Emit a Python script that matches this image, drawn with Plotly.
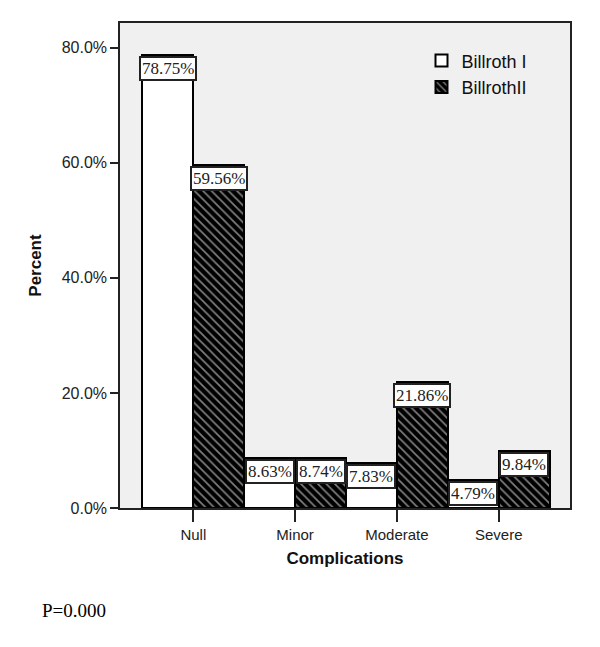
import plotly.graph_objects as go

categories = ["Null", "Minor", "Moderate", "Severe"]
billroth1 = [78.75, 8.63, 7.83, 4.79]
billroth2 = [59.56, 8.74, 21.86, 9.84]
yticks = [0, 20, 40, 60, 80]
yticklabels = ["0.0%", "20.0%", "40.0%", "60.0%", "80.0%"]

xpos = list(range(len(categories)))

fig = go.Figure()
fig.add_trace(go.Bar(
    x=xpos, y=billroth1, name="Billroth I",
    marker=dict(color="white", line=dict(color="black", width=2)),
))
fig.add_trace(go.Bar(
    x=xpos, y=billroth2, name="BillrothII",
    marker=dict(color="black", line=dict(color="black", width=2),
                pattern=dict(shape="\\", fgcolor="white", bgcolor="black",
                             size=6, solidity=0.28)),
))

for series, off in ((billroth1, -0.25), (billroth2, 0.25)):
    for i, v in enumerate(series):
        fig.add_annotation(
            x=i + off, y=v, xref="x", yref="y", text=f"{v:.2f}%",
            showarrow=False, yanchor="top", yshift=-1,
            font=dict(family="Liberation Serif", size=17, color="#222"),
            bgcolor="white", bordercolor="#222", borderwidth=2, borderpad=1,
        )

PLOT_L, PLOT_B, PLOT_W, PLOT_H = 120, 508, 450, 485
fig.add_annotation(
    x=(40 - PLOT_L) / PLOT_W, y=(PLOT_B - 610) / PLOT_H, xref="paper", yref="paper",
    text="P=0.000", showarrow=False, xanchor="left", yanchor="middle",
    font=dict(family="Liberation Serif", size=19, color="black"),
)

fig.update_layout(
    width=600, height=647,
    margin=dict(l=112, r=38, t=15, b=147),
    paper_bgcolor="white", plot_bgcolor="#f0f0f0",
    barmode="group", bargap=0, bargroupgap=0,
    font=dict(family="Liberation Sans", size=15, color="#222"),
    legend=dict(x=0.67, y=0.96, xanchor="left", yanchor="top",
                bgcolor="rgba(0,0,0,0)", font=dict(size=18, color="#111"),
                itemwidth=30, tracegroupgap=2),
    showlegend=True,
)
fig.update_xaxes(
    range=[-0.72, 3.70], tickvals=xpos, ticktext=categories,
    ticks="outside", ticklen=12, tickwidth=1.5, tickcolor="#222",
    showline=True, linecolor="#222", linewidth=1.5, mirror=True,
    showgrid=False, zeroline=False,
    title=dict(text="<b>Complications</b>", font=dict(size=17, color="#111"), standoff=10),
    tickfont=dict(size=15, color="#222"),
)
fig.update_yaxes(
    range=[0, 84.3], tickvals=yticks, ticktext=yticklabels,
    ticks="outside", ticklen=8, tickwidth=1.5, tickcolor="#222",
    showline=True, linecolor="#222", linewidth=1.5, mirror=True,
    showgrid=False, zeroline=False,
    title=dict(text="<b>Percent</b>", font=dict(size=17, color="#111"), standoff=16),
    tickfont=dict(size=16, color="#222"),
)

fig.write_html("out.html")
